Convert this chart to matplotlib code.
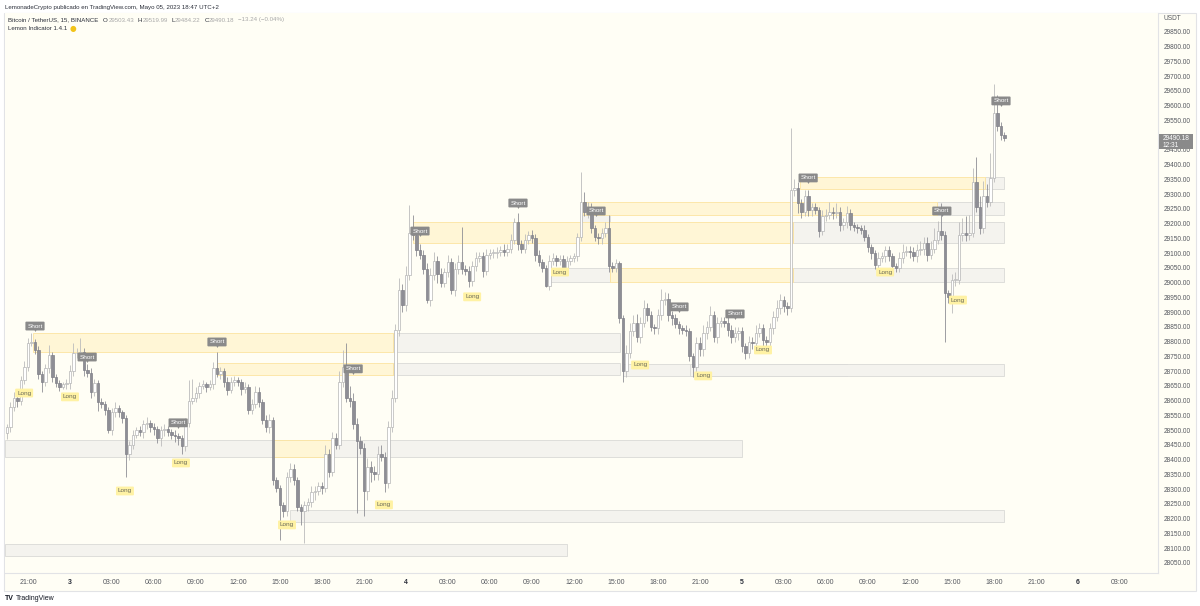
import matplotlib
matplotlib.use("Agg")
import matplotlib.pyplot as plt
from matplotlib.patches import Rectangle

plt.rcParams['font.family'] = ['Liberation Sans', 'DejaVu Sans']

# 15 min candles, BTC/USDT, from May 2 19:30 to May 5 18:45 (bar index 0..285)
first_open = 28490
closes = [
    28510, 28580, 28610, 28600, 28670, 28715, 28795, 28800, 28772, 28690,
    28665, 28710, 28755, 28680, 28660, 28648, 28655, 28660, 28700, 28760,
    28760, 28765, 28705, 28695, 28630, 28660, 28595, 28590, 28570, 28500,
    28560, 28575, 28560, 28540, 28420, 28450, 28485, 28500, 28495, 28520,
    28525, 28510, 28505, 28475, 28500, 28505, 28495, 28485, 28480, 28475,
    28445, 28525, 28600, 28610, 28625, 28650, 28655, 28645, 28655, 28710,
    28690, 28700, 28665, 28635, 28665, 28670, 28665, 28640, 28645, 28570,
    28590, 28630, 28595, 28535, 28510, 28535, 28330, 28305, 28245, 28225,
    28340, 28370, 28330, 28240, 28225, 28245, 28255, 28290, 28295, 28310,
    28305, 28420, 28360, 28475, 28450, 28665, 28715, 28610, 28600, 28520,
    28465, 28440, 28295, 28375, 28360, 28350, 28420, 28410, 28320, 28510,
    28610, 28840, 28975, 28925, 29025, 29170, 29160, 29110, 29095, 29045,
    28940, 29025, 29075, 29030, 29000, 29035, 29070, 28975, 29045, 29070,
    29045, 29040, 29005, 29055, 29085, 29090, 29040, 29095, 29100, 29100,
    29105, 29110, 29105, 29115, 29145, 29205, 29130, 29115, 29145, 29160,
    29150, 29095, 29070, 29050, 28990, 29075, 29085, 29075, 29080, 29050,
    29075, 29085, 29090, 29155, 29275, 29240, 29255, 29185, 29155, 29150,
    29170, 29185, 29055, 29050, 29065, 28880, 28700, 28760, 28835, 28865,
    28815, 28865, 28915, 28890, 28850, 28845, 28890, 28940, 28945, 28890,
    28880, 28860, 28845, 28840, 28835, 28750, 28715, 28795, 28775, 28830,
    28850, 28890, 28815, 28865, 28870, 28865, 28840, 28815, 28830, 28835,
    28785, 28760, 28800, 28795, 28830, 28845, 28805, 28800, 28845, 28885,
    28915, 28940, 28920, 28915, 29315, 29320, 29270, 29240, 29295, 29245,
    29255, 29248, 29175, 29225, 29230, 29240, 29235, 29240, 29195, 29205,
    29235, 29195, 29190, 29185, 29180, 29155, 29120, 29100, 29060, 29085,
    29090, 29110, 29090, 29055, 29050, 29085, 29105, 29108, 29105, 29090,
    29110, 29115, 29135, 29095, 29115, 29145, 29175, 29160, 28965, 28950,
    29010, 29010, 29160, 29170, 29160, 29170, 29340, 29255, 29185, 29295,
    29275, 29355, 29575, 29530, 29500, 29490,
]
wick_up = [
    10, 15, 20, 15, 15, 20, 18, 30, 10, 15,
    10, 15, 35, 10, 10, 10, 10, 15, 20, 35,
    20, 48, 15, 20, 15, 15, 10, 15, 10, 10,
    15, 20, 10, 10, 10, 15, 15, 10, 15, 15,
    20, 10, 15, 10, 15, 15, 10, 10, 15, 10,
    10, 15, 70, 65, 20, 15, 15, 10, 15, 20,
    55, 15, 10, 15, 15, 15, 10, 10, 20, 10,
    15, 20, 15, 10, 15, 20, 10, 10, 10, 10,
    20, 20, 15, 10, 10, 15, 15, 20, 15, 15,
    15, 30, 15, 20, 15, 35, 57, 80, 40, 25,
    20, 15, 15, 30, 20, 20, 25, 30, 15, 20,
    25, 20, 40, 20, 30, 93, 60, 15, 20, 15,
    20, 25, 30, 15, 20, 15, 25, 15, 20, 25,
    120, 15, 15, 20, 20, 15, 15, 20, 15, 15,
    15, 15, 20, 15, 20, 15, 30, 15, 20, 15,
    20, 15, 15, 10, 10, 20, 15, 10, 15, 15,
    15, 10, 10, 15, 100, 33, 20, 15, 10, 15,
    15, 20, 45, 15, 15, 10, 10, 30, 30, 25,
    30, 20, 25, 15, 15, 10, 20, 40, 25, 20,
    15, 15, 10, 10, 15, 10, 10, 20, 20, 25,
    20, 30, 15, 20, 15, 15, 20, 15, 20, 15,
    15, 10, 20, 15, 25, 20, 15, 15, 20, 20,
    25, 20, 15, 15, 210, 30, 20, 15, 20, 20,
    15, 15, 10, 20, 20, 35, 15, 30, 15, 15,
    25, 15, 10, 10, 10, 15, 10, 10, 10, 20,
    15, 15, 15, 10, 10, 20, 25, 15, 15, 15,
    20, 25, 20, 20, 25, 40, 35, 95, 15, 10,
    20, 25, 45, 50, 55, 60, 50, 85, 40, 50,
    40, 85, 100, 60, 15, 10,
]
wick_dn = [
    20, 15, 15, 20, 15, 15, 15, 10, 15, 15,
    35, 15, 15, 15, 15, 15, 10, 15, 20, 15,
    15, 15, 20, 15, 20, 15, 30, 15, 20, 10,
    15, 15, 15, 15, 80, 20, 15, 10, 15, 20,
    15, 15, 20, 20, 30, 20, 15, 15, 20, 25,
    25, 15, 15, 10, 15, 15, 10, 15, 10, 15,
    10, 15, 20, 15, 10, 15, 15, 20, 15, 15,
    15, 15, 15, 15, 15, 20, 15, 15, 117, 20,
    15, 15, 15, 15, 45, 107, 20, 15, 25, 15,
    20, 15, 20, 15, 15, 15, 20, 15, 20, 15,
    245, 20, 85, 30, 35, 20, 20, 15, 30, 15,
    15, 15, 20, 25, 20, 15, 15, 20, 15, 15,
    10, 20, 15, 30, 15, 15, 15, 15, 20, 15,
    15, 15, 20, 15, 15, 15, 20, 15, 15, 15,
    15, 15, 15, 15, 15, 15, 20, 15, 15, 15,
    15, 20, 15, 15, 5, 15, 15, 20, 15, 15,
    15, 15, 15, 15, 15, 15, 20, 15, 15, 20,
    20, 15, 20, 15, 15, 15, 38, 20, 15, 15,
    15, 20, 15, 20, 15, 20, 20, 15, 15, 20,
    25, 15, 20, 15, 15, 15, 35, 20, 25, 25,
    20, 15, 15, 20, 15, 15, 20, 20, 15, 25,
    20, 20, 15, 20, 20, 15, 20, 15, 15, 20,
    15, 20, 20, 25, 15, 20, 35, 20, 15, 20,
    20, 15, 20, 15, 15, 15, 20, 15, 20, 15,
    20, 15, 15, 15, 15, 15, 15, 20, 15, 15,
    15, 20, 15, 20, 15, 15, 20, 15, 20, 15,
    20, 15, 20, 20, 15, 15, 15, 15, 165, 20,
    53, 20, 15, 20, 20, 15, 15, 15, 20, 15,
    20, 15, 15, 15, 15, 10,
]
if not (len(closes) == len(wick_up) == len(wick_dn)):
    raise ValueError((len(closes), len(wick_up), len(wick_dn)))

# indicator labels (bar index, price)
short_labels = [(8.0, 28853), (22.9, 28748), (48.9, 28525), (60.0, 28799),
                (98.9, 28708), (118.0, 29175), (146.0, 29270), (168.3, 29243),
                (192.0, 28918), (208.0, 28894), (228.9, 29355), (267.1, 29243),
                (284.0, 29616)]
long_labels = [(4.9, 28626), (18.0, 28613), (33.7, 28294), (49.7, 28389),
               (80.0, 28179), (107.7, 28247), (132.9, 28952), (158.0, 29036),
               (180.9, 28721), (198.9, 28684), (216.0, 28772), (250.9, 29036),
               (271.7, 28941)]

# zones: (bar from, bar to, low, high)
supply_zones = [(7.4, 110.3, 28765, 28830), (60.0, 110.3, 28687, 28728),
                (76.0, 92.9, 28409, 28467), (116.0, 224.6, 29135, 29206),
                (164.6, 265.7, 29230, 29274), (172.3, 224.6, 29002, 29050),
                (226.6, 279.4, 29318, 29358)]
gray_zones = [(-0.6, 210.0, 28409, 28467), (-0.6, 160.0, 28074, 28114),
              (80.9, 285.0, 28189, 28230), (110.3, 175.1, 28765, 28830),
              (110.3, 175.1, 28687, 28728), (176.0, 240.0, 28684, 28725),
              (195.1, 285.0, 28684, 28725), (224.6, 285.0, 29135, 29206),
              (154.6, 172.3, 29002, 29050), (224.6, 285.0, 29002, 29050),
              (265.7, 285.0, 29230, 29274), (279.4, 285.0, 29318, 29358),
              (164.3, 172.3, 29138, 29230)]

price_ticks = [28050, 28100, 28150, 28200, 28250, 28300, 28350, 28400, 28450,
               28500, 28550, 28600, 28650, 28700, 28750, 28800, 28850, 28900,
               28950, 29000, 29050, 29100, 29150, 29200, 29250, 29300, 29350,
               29400, 29450, 29500, 29550, 29600, 29650, 29700, 29750, 29800, 29850]
hidden_tick = 29500  # sits under the last-price tag
time_labels = ["21:00", "3", "03:00", "06:00", "09:00", "12:00", "15:00", "18:00",
               "21:00", "4", "03:00", "06:00", "09:00", "12:00", "15:00", "18:00",
               "21:00", "5", "03:00", "06:00", "09:00", "12:00", "15:00", "18:00",
               "21:00", "6", "03:00"]
first_tick_bar = 6

CREAM = '#fffef5'
W, H = 1200, 606


def fx(x):
    return x / W


def fy(y):
    return 1 - y / H


fig = plt.figure(figsize=(12, 6.06), dpi=100, facecolor='white')
fig.patches.append(Rectangle((fx(4), fy(591)), (1196 - 4) / W, (591 - 13) / H,
                             transform=fig.transFigure, facecolor=CREAM,
                             edgecolor='#e2e3e6', lw=0.8, zorder=-5))

ax = fig.add_axes([fx(5), fy(573), (1158 - 5) / W, (573 - 13) / H])
ax.set_facecolor(CREAM)
ax.set_xlim(-0.57, 328.86)
ax.set_ylim(28016, 29914)
for side in ['top', 'left']:
    ax.spines[side].set_visible(False)
for side in ['right', 'bottom']:
    ax.spines[side].set_color('#e2e3e6')
    ax.spines[side].set_linewidth(0.8)

# zones
for x0, x1, lo, hi in gray_zones:
    ax.add_patch(Rectangle((x0, lo), x1 - x0, hi - lo, facecolor='#f4f3ee',
                           edgecolor='#d9d9d6', lw=0.6, zorder=1))
for x0, x1, lo, hi in supply_zones:
    ax.add_patch(Rectangle((x0, lo), x1 - x0, hi - lo, facecolor='#fff6d6',
                           edgecolor='#fce4a0', lw=0.6, zorder=1.5))

# candles
opens = [first_open] + closes[:-1]
for i, (o, c, wu, wd) in enumerate(zip(opens, closes, wick_up, wick_dn)):
    up = c >= o
    hi = max(o, c) + wu
    lo = min(o, c) - wd
    wick_col = '#bcbcbc' if up else '#8e8e95'
    ax.vlines(i, lo, hi, color=wick_col, lw=0.6, zorder=2)
    body = c - o if abs(c - o) >= 3 else 3
    ax.bar(i, body, bottom=min(o, c) if abs(c - o) < 3 else o, width=0.66,
           color='#ffffff' if up else '#8e8e95',
           edgecolor='#b5b5b5' if up else '#7f7f87', lw=0.5, zorder=3)

# Short / Long labels
for i, p in short_labels:
    ax.text(i, p, 'Short', ha='center', va='center', fontsize=4.6, color='white',
            zorder=6, bbox=dict(boxstyle='round,pad=0.3,rounding_size=0.15',
                                fc='#8a8a8a', ec='none'))
    ax.plot(i, p - 15, marker='v', ms=2.2, color='#8a8a8a', mec='none', zorder=6)
for i, p in long_labels:
    ax.text(i, p, 'Long', ha='center', va='center', fontsize=4.6, color='#6a6a5a',
            zorder=6, bbox=dict(boxstyle='round,pad=0.3,rounding_size=0.15',
                                fc='#fff2a4', ec='none'))

# price axis
ax.yaxis.tick_right()
ax.set_yticks(price_ticks)
ax.set_yticklabels(["" if p == hidden_tick else f"{p:.2f}" for p in price_ticks])
ax.tick_params(axis='y', length=0, pad=4, labelsize=4.7, labelcolor='#55585f')

# time axis
xt = [first_tick_bar + 12 * k for k in range(len(time_labels))]
ax.set_xticks(xt)
ax.set_xticklabels(time_labels)
ax.tick_params(axis='x', length=0, pad=4.5, labelsize=5, labelcolor='#55585f')
for lbl in ax.get_xticklabels():
    if ':' not in lbl.get_text():
        lbl.set_fontweight('bold')
        lbl.set_color('#2a2e39')

fig.text(fx(1163), fy(18), 'USDT', fontsize=4.7, color='#55585f', va='center')

# last price tag
fig.patches.append(Rectangle((fx(1159), fy(149)), 34 / W, 15 / H,
                             transform=fig.transFigure, facecolor='#8a8a8a',
                             edgecolor='none', zorder=5))
fig.text(fx(1163), fy(138.5), '29490.18', fontsize=4.7, color='white', va='center', zorder=6)
fig.text(fx(1163), fy(145), '12:31', fontsize=4.7, color='white', va='center', zorder=6)

# header
fig.text(fx(5), fy(7), 'LemonadeCrypto publicado en TradingView.com, Mayo 05, 2023 18:47 UTC+2',
         fontsize=4.4, color='#2a2e39', va='center')

DARK = '#2a2e39'
GREY = '#a8a8a8'
parts = [('Bitcoin / TetherUS, 15, BINANCE', DARK, 0), ('O', DARK, 3.5), ('29503.43', GREY, 0.3),
         ('H', DARK, 2.5), ('29519.99', GREY, 0.3), ('L', DARK, 2.5), ('29484.22', GREY, 0.3),
         ('C', DARK, 2.5), ('29490.18', GREY, 0.3), ('\u221213.24 (\u22120.04%)', GREY, 2.5)]
t = fig.text(fx(8), fy(20), parts[0][0], fontsize=4.4, color=parts[0][1], va='center')
for s, col, gap in parts[1:]:
    t = ax.annotate(s, xy=(1, 0.5), xycoords=t, xytext=(gap, 0), textcoords='offset points',
                    va='center', ha='left', fontsize=4.4, color=col, annotation_clip=False)
t = fig.text(fx(8), fy(28), 'Lemon Indicator 1.4.1', fontsize=4.4, color=DARK, va='center')
ax.annotate('\u25cf', xy=(1, 0.5), xycoords=t, xytext=(2, 0), textcoords='offset points',
            va='center', ha='left', fontsize=5.5, color='#f2c318',
            family='DejaVu Sans', annotation_clip=False)

# footer
t = fig.text(fx(5), fy(598), 'TV', fontsize=5, color='#131722', va='center', fontweight='bold')
ax.annotate('TradingView', xy=(1, 0.5), xycoords=t, xytext=(1.5, 0), textcoords='offset points',
            va='center', ha='left', fontsize=5, color='#131722', annotation_clip=False)

fig.savefig('out.png', dpi=100, facecolor='white')
